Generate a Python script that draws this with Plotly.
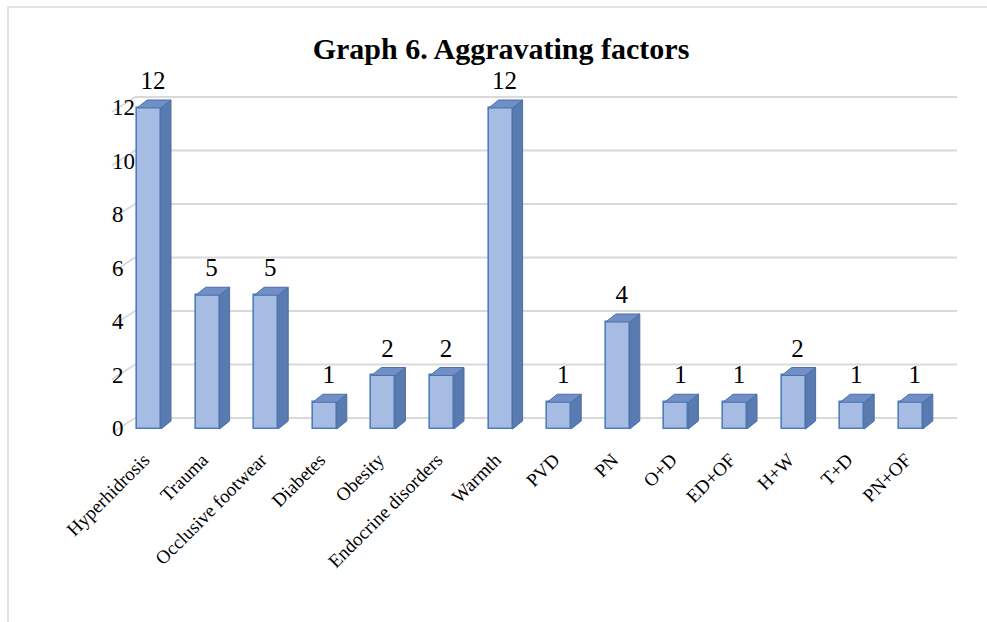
import plotly.graph_objects as go

# Aggravating factors and number of cases
categories = ["Hyperhidrosis", "Trauma", "Occlusive footwear", "Diabetes", "Obesity",
              "Endocrine disorders", "Warmth", "PVD", "PN", "O+D", "ED+OF", "H+W",
              "T+D", "PN+OF"]
counts = [12, 5, 5, 1, 2, 2, 12, 1, 4, 1, 1, 2, 1, 1]
y_ticks = [0, 2, 4, 6, 8, 10, 12]

W, H = 987, 622
M_L, M_R, M_T, M_B = 106, 17, 60, 186
X_RANGE = [-0.734, 14.01]
Y_RANGE = [-0.262, 13.794]

plot_w = W - M_L - M_R
plot_h = H - M_T - M_B
px_x = plot_w / (X_RANGE[1] - X_RANGE[0])   # pixels per category
px_y = plot_h / (Y_RANGE[1] - Y_RANGE[0])   # pixels per unit


def dxu(px):
    return px / px_x


def dyu(px):
    return px / px_y


FONT = "Liberation Serif"
bar_w = dxu(24)
depth_x, depth_y = dxu(10), dyu(8)

xs = list(range(len(categories)))

fig = go.Figure()

# front faces
fig.add_trace(go.Bar(
    x=xs, y=counts, width=bar_w,
    marker=dict(color="#A6BCE3", line=dict(color="#4F7DBF", width=1.6)),
    showlegend=False, hoverinfo="skip",
))

# side and top faces of the 3D columns
sx, sy = [], []
tx, ty = [], []
for i, v in zip(xs, counts):
    r = i + bar_w / 2
    l = i - bar_w / 2
    sx += [r, r + depth_x, r + depth_x, r, r, None]
    sy += [0, depth_y, v + depth_y, v, 0, None]
    tx += [l, l + depth_x, r + depth_x, r, l, None]
    ty += [v, v + depth_y, v + depth_y, v, v, None]

fig.add_trace(go.Scatter(
    x=sx, y=sy, mode="lines", fill="toself", fillcolor="#5A7BB0",
    line=dict(color="#4A6FA8", width=1), showlegend=False, hoverinfo="skip",
))
fig.add_trace(go.Scatter(
    x=tx, y=ty, mode="lines", fill="toself", fillcolor="#6F8FC6",
    line=dict(color="#4A6FA8", width=1), showlegend=False, hoverinfo="skip",
))

# value labels above the columns
fig.add_trace(go.Scatter(
    x=[i + dxu(4) for i in xs], y=[v + dyu(25) for v in counts],
    mode="text", text=[str(v) for v in counts], textposition="middle center",
    textfont=dict(family=FONT, size=25, color="black"),
    showlegend=False, hoverinfo="skip", cliponaxis=False,
))

# back wall gridlines with the floor diagonals
shapes = []
wall_l = X_RANGE[0] + dxu(135 - M_L)
wall_r = X_RANGE[0] + dxu(957 - M_L)
front_l = X_RANGE[0] + dxu(112 - M_L)
for t in y_ticks:
    yb = t + dyu(11)
    yf = t - dyu(4)
    shapes.append(dict(type="line", xref="x", yref="y", x0=wall_l, x1=wall_r,
                       y0=yb, y1=yb, line=dict(color="#D9D9D9", width=2), layer="below"))
    shapes.append(dict(type="line", xref="x", yref="y", x0=front_l, x1=wall_l,
                       y0=yf, y1=yb, line=dict(color="#D9D9D9", width=2), layer="below"))

# chart frame
shapes.append(dict(type="rect", xref="paper", yref="paper",
                   x0=(8 - M_L) / plot_w, x1=(W + 5 - M_L) / plot_w,
                   y0=-(H + 5 - M_T - plot_h) / plot_h, y1=(H - 7 - M_B) / plot_h,
                   line=dict(color="#D9D9D9", width=1.5), layer="below"))

# value axis labels, placed on the front plane
annotations = [dict(text=str(t), xref="paper", yref="y", x=(110 - M_L) / plot_w, y=t,
                    xanchor="left", yanchor="middle", showarrow=False,
                    font=dict(family=FONT, size=23, color="black"))
               for t in y_ticks]

fig.update_layout(
    width=W, height=H,
    margin=dict(l=M_L, r=M_R, t=M_T, b=M_B, pad=0),
    paper_bgcolor="white", plot_bgcolor="rgba(0,0,0,0)",
    bargap=0,
    title=dict(text="<b>Graph 6. Aggravating factors</b>", xref="container", yref="container",
               x=501 / W, y=1 - 48 / H, xanchor="center", yanchor="middle",
               font=dict(family=FONT, size=30, color="black")),
    shapes=shapes,
    annotations=annotations,
    xaxis=dict(range=X_RANGE, tickmode="array", tickvals=xs, ticktext=categories,
               tickangle=-45, showgrid=False, zeroline=False, showline=False, ticks="",
               ticklabelstandoff=8, ticklabelshift=-5,
               tickfont=dict(family=FONT, size=19, color="black")),
    yaxis=dict(range=Y_RANGE, showticklabels=False,
               showgrid=False, zeroline=False, showline=False, ticks=""),
)

fig.write_html("out.html")
